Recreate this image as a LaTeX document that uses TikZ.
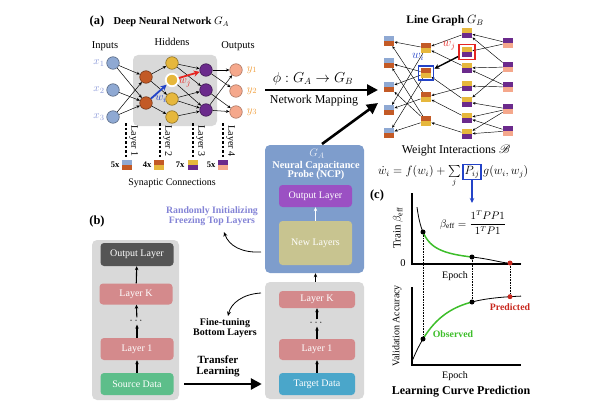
\documentclass[tikz,border=0pt]{standalone}
\usepackage{fontspec}
\setmainfont{Liberation Serif}
\usepackage{amsmath}
\usepackage{mathrsfs}
\usetikzlibrary{arrows.meta}
\newcommand\fsz[1]{\fontsize{#1}{#1}\selectfont}
\definecolor{inblue}{HTML}{8FA9D3}
\definecolor{lbrown}{HTML}{C35A26}
\definecolor{lgold}{HTML}{E6B73C}
\definecolor{lpurple}{HTML}{6B2A8C}
\definecolor{lsalmon}{HTML}{F5A88C}
\definecolor{xlab}{HTML}{8A98D8}
\definecolor{ylab}{HTML}{F0A040}
\definecolor{wblue}{HTML}{2343C8}
\definecolor{wred}{HTML}{E52521}
\definecolor{boxgray}{HTML}{D9D9D9}
\definecolor{darkbox}{HTML}{555555}
\definecolor{rosy}{HTML}{D48A8C}
\definecolor{srcgreen}{HTML}{5DBE8A}
\definecolor{tgtblue}{HTML}{4AA6CA}
\definecolor{ncpblue}{HTML}{7E9DCC}
\definecolor{outpurple}{HTML}{9B50C3}
\definecolor{newkhaki}{HTML}{C8C490}
\definecolor{randblue}{HTML}{8383D6}
\definecolor{cgreen}{HTML}{3DBE2A}
\definecolor{cred}{HTML}{C8281E}
\tikzset{
  neu/.style={circle, minimum size=12.5pt, inner sep=0pt, line width=0.6pt},
  syn/.style={-{Stealth[length=3.5pt,width=3pt]}, line width=0.5pt},
  lgarr/.style={-{Stealth[length=3pt,width=2.6pt]}, line width=0.45pt},
  wsq/.style 2 args={minimum width=10.5pt, minimum height=10pt, inner sep=0pt,
    path picture={\fill[#1] (path picture bounding box.north west) rectangle (path picture bounding box.east);
                  \fill[#2] (path picture bounding box.west) rectangle (path picture bounding box.south east);}},
  bigarr/.style={line width=2.6pt, -{Triangle[length=11pt,width=11pt]}},
  bgbox/.style={fill=boxgray, rounded corners=5pt, inner sep=0pt},
  lay/.style={rounded corners=3.5pt, text=white, font=\fsz{10}, inner sep=0pt, minimum width=73pt},
  uparr/.style={-{Stealth[length=4pt,width=3.5pt]}, line width=1.1pt},
  dotn/.style={circle, fill=black, minimum size=5pt, inner sep=0pt},
  rdot/.style={circle, fill=cred, minimum size=5pt, inner sep=0pt},
  laydash/.style={line width=1.6pt, dash pattern=on 2.5pt off 2pt},
  laytxt/.style={rotate=-90, font=\fsz{10}},
  axisl/.style={line width=2.2pt},
  dotl/.style={densely dotted, line width=0.6pt},
}
\begin{document}
\begin{tikzpicture}[x=1pt,y=-1pt,font=\fsz{10.5}]
\useasboundingbox (0,0) rectangle (600,404);
% ================= panel (a) =================
\node[font=\fsz{12.5}\bfseries] (lbla) at (97,21) {(a)};
\node[font=\fsz{10.5}\bfseries, anchor=west] (ttla) at (110,22) {Deep Neural Network $G_A$};
\node (tin) at (105,46) {Inputs};
\node (thid) at (172,42) {Hiddens};
\node (tout) at (238,46) {Outputs};
\node[bgbox, minimum width=84pt, minimum height=71pt] (hbox) at (175,90.5) {};
% neurons
\foreach \i/\y in {1/63,2/90,3/117}{
  \node[neu, fill=inblue, draw=inblue!60!black] (x\i) at (113,\y) {};
  \node[text=xlab, font=\fsz{11}] (xl\i) at (99,\y) {$x_{\i}$};
}
\node[neu, fill=lbrown, draw=lbrown!60!black] (a1) at (146,77) {};
\node[neu, fill=lbrown, draw=lbrown!60!black] (a2) at (146,103) {};
\node[neu, fill=lgold, draw=lgold!60!black] (b1) at (172,63) {};
\node[neu, fill=lgold, draw=white, line width=1.8pt] (b2) at (172,80) {};
\node[neu, fill=lgold, draw=lgold!60!black] (b3) at (172,99) {};
\node[neu, fill=lgold, draw=lgold!60!black] (b4) at (172,117) {};
\node[neu, fill=lpurple, draw=lpurple!60!black] (c1) at (206,70) {};
\node[neu, fill=lpurple, draw=lpurple!60!black] (c2) at (206,90) {};
\node[neu, fill=lpurple, draw=lpurple!60!black] (c3) at (206,110) {};
\foreach \i/\y in {1/70,2/91,3/112}{
  \node[neu, fill=lsalmon, draw=lsalmon!70!black] (o\i) at (236,\y) {};
  \node[text=ylab, font=\fsz{11}] (ol\i) at (252,\y) {$y_{\i}$};
}
% synapses
\foreach \s/\t in {x1/a1,x1/a2,x2/a2,x3/a1,x3/a2,a1/b1,a1/b3,a2/b4,b1/c1,b1/c2,b2/c3,b3/c2,b3/c3,b4/c3,c1/o1,c1/o2,c2/o3,c3/o1,c3/o3}
  \draw[syn] (\s) -- (\t);
\draw[wblue, line width=1.8pt, -{Stealth[length=6pt,width=6pt]}] (a2) -- (b2);
\draw[wred, line width=1.8pt, -{Stealth[length=6pt,width=6pt]}] (b2) -- (c1);
\node[text=wblue, font=\fsz{11}] (wil) at (161,99) {$w_i$};
\node[text=wred, font=\fsz{11}] (wjl) at (185,83) {$w_j$};
% layer labels
\foreach \x/\n in {126/1,160/2,193/3,223/4}{
  \draw[laydash] (\x,123) -- (\x,157);
  \node[laytxt] (lt\n) at (\x+7.5,141) {Layer \n};
}
\node[font=\fsz{8.5}\bfseries] (k1) at (115,165) {5x};
\node[wsq={inblue}{lbrown}] (k1s) at (127,165) {};
\node[font=\fsz{8.5}\bfseries] (k2) at (147,165) {4x};
\node[wsq={lbrown}{lgold}] (k2s) at (159,165) {};
\node[font=\fsz{8.5}\bfseries] (k3) at (180,165) {7x};
\node[wsq={lgold}{lpurple}] (k3s) at (193,165) {};
\node[font=\fsz{8.5}\bfseries] (k4) at (211,165) {5x};
\node[wsq={lpurple}{lsalmon}] (k4s) at (223,165) {};
\node[font=\fsz{10}] (syntxt) at (172,183) {Synaptic Connections};
% mapping arrows
\coordinate (phis) at (265,90);
\coordinate (phie) at (378,90);
\draw[bigarr] (phis) -- (phie);
\node[font=\fsz{13.5}] (phil) at (313,79) {$\phi : G_A \rightarrow G_B$};
\node[font=\fsz{12}] (nmap) at (314,101) {Network Mapping};
% ================= line graph =================
\node[font=\fsz{11.5}\bfseries] (ttlb) at (445,21) {Line Graph $G_B$};
\foreach \i/\y in {1/41,2/63,3/87,4/110,5/133} \node[wsq={inblue}{lbrown}] (p\i) at (389,\y) {};
\foreach \i/\y in {1/48,2/73,3/97,4/121} \node[wsq={lbrown}{lgold}] (q\i) at (426,\y) {};
\foreach \i/\y in {1/33,2/52,3/68,4/86,5/102,6/118,7/134} \node[wsq={lgold}{lpurple}] (r\i) at (467,\y) {};
\foreach \i/\y in {1/43,2/67,3/87,4/109,5/131} \node[wsq={lpurple}{lsalmon}] (s\i) at (508,\y) {};
\foreach \s/\t in {q1/p1,q1/p4,q3/p1,q3/p4,q2/p2,q2/p3,q2/p5,q4/p2,q4/p3,q4/p5,
                   r1/q1,r3/q1,r5/q2,r4/q3,r6/q3,r7/q4,
                   s1/r1,s1/r2,s2/r1,s2/r3,s3/r3,s3/r4,s2/r5,s4/r5,s4/r6,s4/r7,s5/r6,s5/r7}
  \draw[lgarr] (\s) -- (\t);
\node[draw=wblue, line width=1.8pt, minimum width=15pt, minimum height=14pt, inner sep=0pt] (hq) at (q2) {};
\node[draw=wred, line width=1.8pt, minimum width=16pt, minimum height=15pt, inner sep=0pt] (hr) at (r2) {};
\draw[line width=1.4pt, -{Stealth[length=5pt,width=5pt]}] (hr) -- (hq);
\node[text=wblue, font=\fsz{12}] (lwi) at (418,57) {$w_i$};
\node[text=wred, font=\fsz{12}] (lwj) at (449,46) {$w_j$};
% weight interactions
\node[font=\fsz{12}, inner sep=0pt] (wint) at (456,150.5) {Weight Interactions $\mathscr{B}$};
\node[draw=wblue, line width=1.2pt, inner sep=1.5pt, font=\fsz{11.5}] (Pij) at (472,172) {$P_{ij}$};
\node[anchor=base east, font=\fsz{11.5}, inner sep=0pt] (eqL) at ([xshift=-1.5pt]Pij.base west) {$\dot{w}_i = f(w_i) + \sum\limits_j$};
\node[anchor=base west, font=\fsz{11.5}, inner sep=0pt] (eqR) at ([xshift=1.5pt]Pij.base east) {$g(w_i, w_j)$};
\coordinate (parr) at (472,203);
\draw[wblue, line width=1.2pt, -{Stealth[length=5pt,width=4.5pt]}] (Pij) -- (parr);
% ================= panel (c) =================
\node[font=\fsz{12.5}\bfseries] (lblc) at (377,195) {(c)};
\draw[axisl] (412,193) -- (412,264) -- (521,264);
\draw[axisl] (412,287) -- (412,365) -- (521,365);
\node[rotate=90, font=\fsz{11}] (ytr) at (398,228) {Train $\beta_{\mathrm{eff}}$};
\node (zero) at (403,263) {0};
\node[font=\fsz{10}] (ep1) at (455,276) {Epoch};
\node[font=\fsz{10.5}] (befff) at (473,223) {$\beta_{\mathrm{eff}} = \dfrac{1^T PP1}{1^T P1}$};
\draw[line width=0.8pt] plot[domain=417:423, samples=10] (\x,{264-438/(\x-409.3)});
\draw[cgreen, line width=1.5pt] plot[domain=423:472, samples=40] (\x,{264-438/(\x-409.3)});
\draw[line width=0.8pt] (472,257) .. controls (492,259.3) and (500,262.6) .. (510,263.2) -- (521,264);
\node[rotate=90, font=\fsz{10}] (yva) at (397,326) {Validation Accuracy};
\node[font=\fsz{10}] (ep2) at (455,376) {Epoch};
\draw[line width=0.8pt] plot[domain=412.5:423, samples=10] (\x,{295+44*exp(-0.0375*(\x-423))});
\draw[cgreen, line width=1.5pt] plot[domain=423:472, samples=40] (\x,{295+44*exp(-0.0375*(\x-423))});
\draw[line width=0.8pt] plot[domain=472:521, samples=30] (\x,{295+44*exp(-0.0375*(\x-423))});
\node[dotn] (d1) at (423,232) {};
\node[dotn] (d2) at (472,257) {};
\node[rdot] (d3) at (510,263) {};
\node[dotn] (e1) at (423,339) {};
\node[dotn] (e2) at (472,302) {};
\node[rdot] (e3) at (510,296.7) {};
\draw[dotl] (d1) -- (e1);
\draw[dotl] (d2) -- (e2);
\draw[dotl] (d3) -- (e3);
\node[text=cgreen, font=\fsz{9.8}\bfseries] (obs) at (453,334) {Observed};
\node[text=cred, font=\fsz{9.8}\bfseries] (pred) at (510,307) {Predicted};
\node[font=\fsz{12}\bfseries] (lcp) at (461,392) {Learning Curve Prediction};
% ================= panel (b) =================
\node[font=\fsz{12.5}\bfseries] (lblb) at (97,221) {(b)};
\node[bgbox, minimum width=87pt, minimum height=160pt] (lbox) at (135.5,320) {};
\node[lay, fill=darkbox, minimum height=23pt] (lout) at (137,254.5) {Output Layer};
\node[lay, fill=rosy, minimum height=21pt] (lk) at (136,294) {Layer K};
\node[inner sep=1pt] (ldots) at (137,321) {$\cdots$};
\node[lay, fill=rosy, minimum height=22pt] (l1) at (137,349) {Layer 1};
\node[lay, fill=srcgreen, minimum height=22pt] (src) at (137,384) {Source Data};
\draw[uparr] (src) -- (l1);
\draw[uparr] (l1) -- (ldots);
\draw[uparr] (ldots) -- (lk);
\draw[uparr] (lk) -- (lout);
% right stack
\node[bgbox, minimum width=99pt, minimum height=117pt] (rbox) at (314.5,340.5) {};
\node[lay, fill=rosy, minimum width=76pt, minimum height=17pt] (rk) at (317,299.5) {Layer K};
\node[inner sep=1pt] (rdots) at (317,323) {$\cdots$};
\node[lay, fill=rosy, minimum width=76pt, minimum height=21pt] (r1b) at (317,349.5) {Layer 1};
\node[lay, fill=tgtblue, minimum width=76pt, minimum height=22pt] (tgt) at (317,384) {Target Data};
\draw[uparr] (tgt) -- (r1b);
\draw[uparr] (r1b) -- (rdots);
\draw[uparr] (rdots) -- (rk);
% NCP
\node[fill=ncpblue, rounded corners=5pt, minimum width=99pt, minimum height=128pt, inner sep=0pt] (ncp) at (314.5,209) {};
\node[text=white!80!ncpblue, font=\fsz{11}] (ncpg) at (317,154) {$G_A$};
\node[text=white, font=\fsz{10.3}\bfseries, align=center] (ncpt) at (316,170.5) {Neural Capacitance\\[-0.5pt]Probe (NCP)};
\node[lay, fill=outpurple, minimum height=22pt] (nout) at (315.5,196) {Output Layer};
\node[lay, fill=newkhaki, minimum height=44pt] (nnew) at (315.5,243) {New Layers};
\draw[uparr, white] (nnew) -- (nout);
\draw[uparr] (rbox.north -| nnew) -- (ncp.south -| nnew);
\coordinate (ncptop) at (322,144);
\coordinate (lgin) at (378,103);
\draw[bigarr] (ncptop) -- (lgin);
% side labels
\node[text=randblue, font=\fsz{9.8}\bfseries, align=center] (rand) at (212,216) {Randomly Initializing\\Freezing Top Layers};
\coordinate (ra1) at (261,252);
\coordinate (ra2) at (224,232);
\draw[line width=0.8pt, -{Stealth[length=4.5pt,width=4pt]}] (ra1) .. controls (242,253) and (229,246) .. (ra2);
\node[font=\fsz{10}\bfseries, align=center] (fine) at (225,328.5) {Fine-tuning\\Bottom Layers};
\coordinate (fa1) at (261,293);
\coordinate (fa2) at (228,316);
\draw[line width=0.8pt, -{Stealth[length=4.5pt,width=4pt]}] (fa1) .. controls (243,294) and (231,303) .. (fa2);
\node[font=\fsz{11}\bfseries, align=center] (trl) at (218,366) {Transfer\\Learning};
\draw[bigarr] ([xshift=5pt]lbox.east |- src) -- ([xshift=-3pt]rbox.west |- src);
\end{tikzpicture}
\end{document}
